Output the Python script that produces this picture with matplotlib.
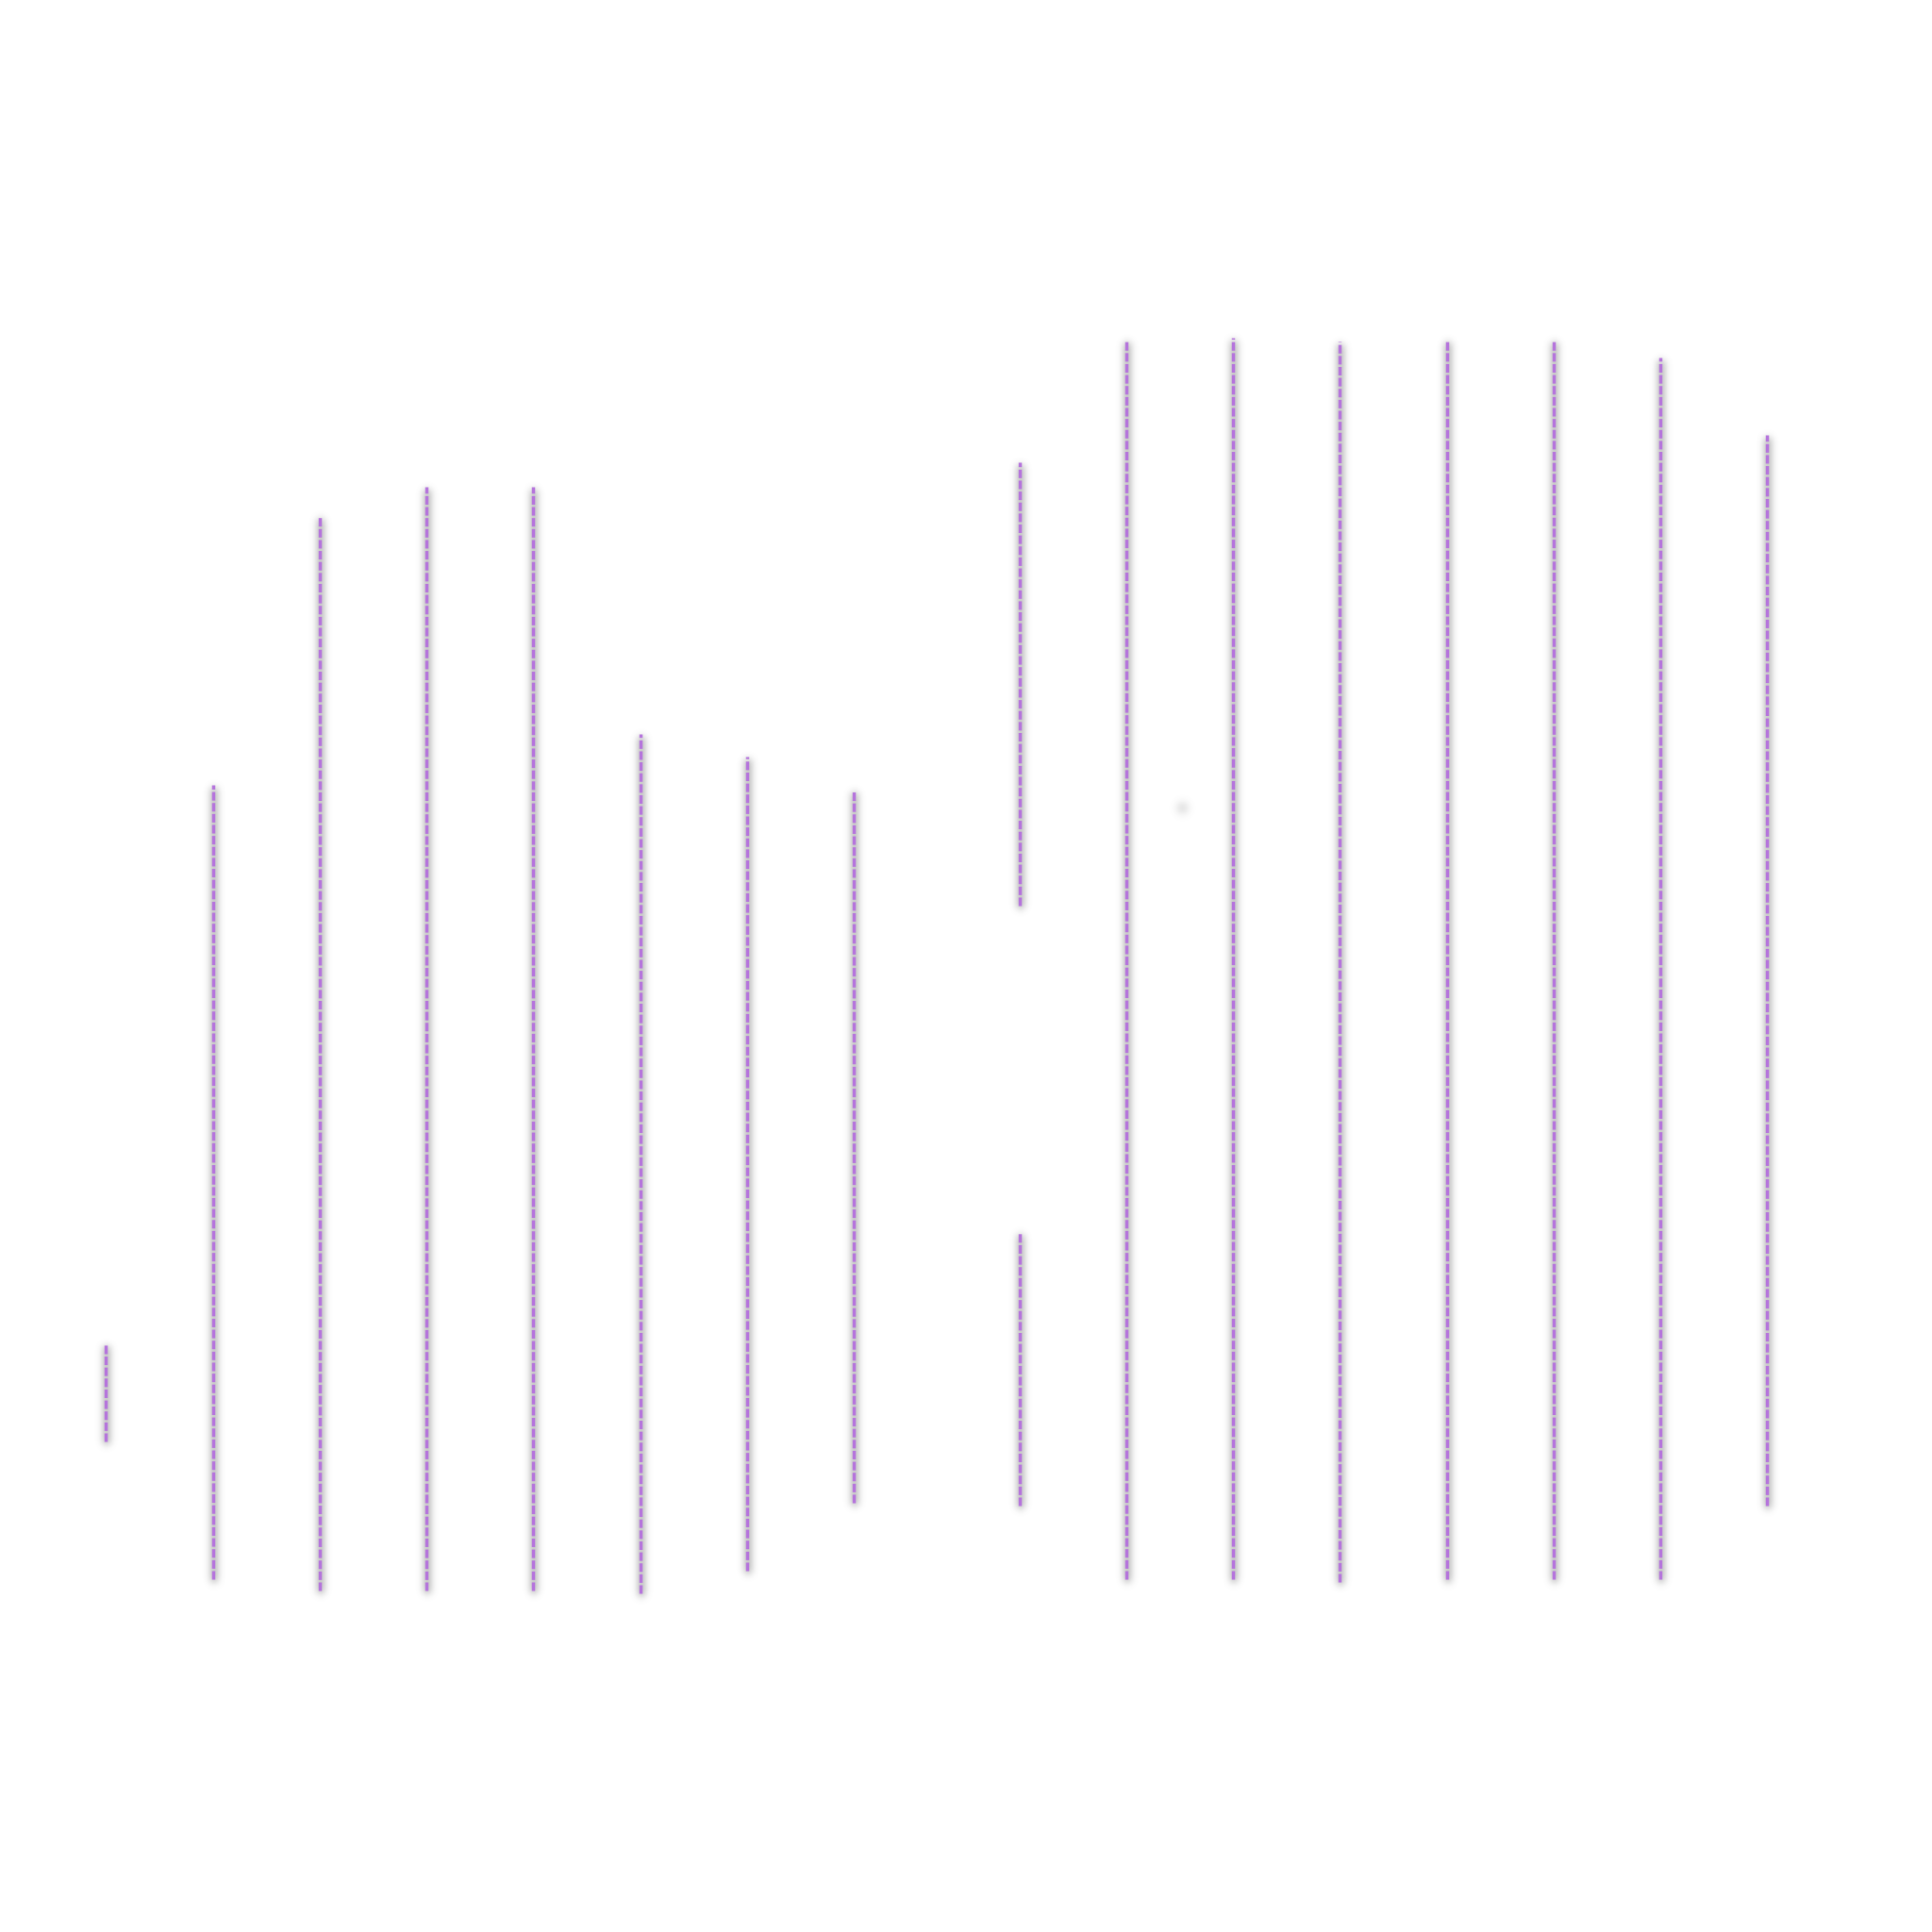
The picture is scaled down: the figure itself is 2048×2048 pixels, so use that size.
import numpy as np
import matplotlib
matplotlib.use("Agg")
import matplotlib.pyplot as plt

# ---- data ----
seg_x    = [1, 2, 3, 4, 5, 6, 7, 8, 9.55, 9.55, 10.55, 11.55, 12.55, 13.55, 14.55, 15.55, 16.55]
seg_low  = [13.0, 1.8, 0.9, 0.9, 0.9, 0.7, 2.5, 8.0, 56.5, 7.8, 1.8, 1.8, 1.6, 1.8, 1.8, 1.8, 7.8]
seg_high = [21.0, 66.3, 88.1, 90.5, 90.5, 70.4, 68.6, 65.9, 92.5, 30.0, 102.4, 102.6, 102.3, 102.4, 102.4, 101.0, 94.7]
dot_x = [11.06]
dot_y = [64.6]

LINE_COLOR = "#b574dc"
SHADOW_COLOR = (0.42, 0.42, 0.42)


def _blur1d(a, sigma, axis):
    r = int(3 * sigma)
    k = np.exp(-0.5 * (np.arange(-r, r + 1) / sigma) ** 2)
    k /= k.sum()
    out = np.zeros_like(a)
    for i, w in zip(range(-r, r + 1), k):
        out += w * np.roll(a, i, axis=axis)
    return out


class DropShadow:
    def __init__(self, sigma=3.0, alpha=0.55, color=SHADOW_COLOR, ox=1, oy=2):
        self.sigma = sigma
        self.alpha = alpha
        self.color = color
        self.ox = ox
        self.oy = oy

    def __call__(self, im, dpi):
        pad = int(self.sigma * 4) + max(abs(self.ox), abs(self.oy))
        p = np.pad(im, [(pad, pad), (pad, pad), (0, 0)], "constant")
        a = p[..., 3]
        a = _blur1d(a, self.sigma, 0)
        a = _blur1d(a, self.sigma, 1)
        a = np.roll(a, self.ox, axis=1)
        a = np.roll(a, self.oy, axis=0)
        out = np.empty_like(p)
        out[..., 0] = self.color[0]
        out[..., 1] = self.color[1]
        out[..., 2] = self.color[2]
        out[..., 3] = np.clip(a * self.alpha, 0, 1)
        return out, -pad, -pad


fig = plt.figure(figsize=(10.24, 10.24), dpi=200)
fig.patch.set_facecolor("white")
ax = fig.add_axes([0, 0, 1, 1])
ax.set_xlim(0.008, 18.093)
ax.set_ylim(-26.8, 130)
ax.axis("off")

# shadow layer
sh = ax.vlines(seg_x, seg_low, seg_high, colors="black", linewidths=2.0, zorder=1)
sh.set_agg_filter(DropShadow(sigma=4.0, alpha=0.7, ox=1, oy=3))
sh.set_rasterized(True)
dot, = ax.plot(dot_x, dot_y, "o", color="black", markersize=4, markeredgewidth=0, zorder=1)
dot.set_agg_filter(DropShadow(sigma=4.5, alpha=0.3))
dot.set_rasterized(True)

# main dashed lines
ax.vlines(seg_x, seg_low, seg_high, colors=LINE_COLOR, linewidths=1.25,
          linestyles=(0, (2.6, 0.75)), zorder=2)

fig.savefig("out.png", dpi=200, facecolor="white")
